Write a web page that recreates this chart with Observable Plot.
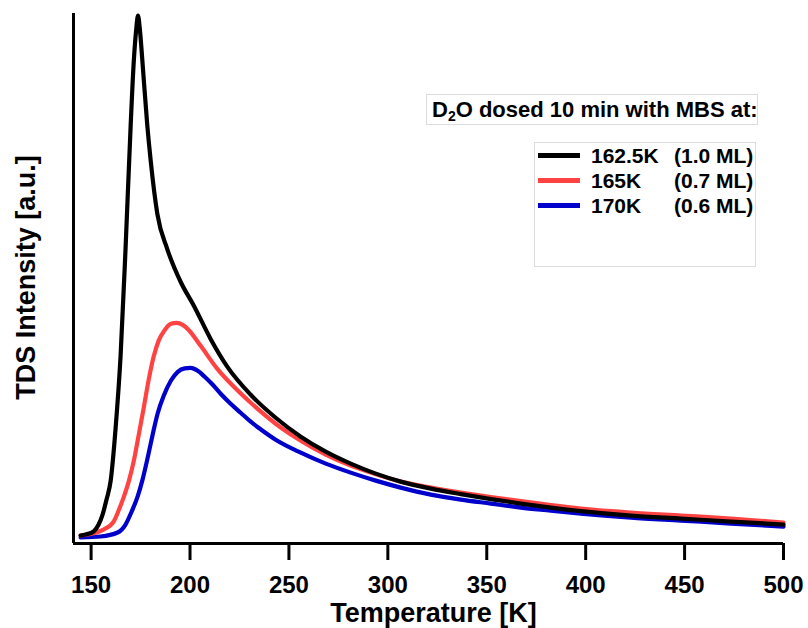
<!DOCTYPE html>
<html>
<head>
<meta charset="utf-8">
<script src="https://cdn.jsdelivr.net/npm/d3@7"></script>
<script src="https://cdn.jsdelivr.net/npm/@observablehq/plot@0.6"></script>
<style>
  html, body { margin: 0; padding: 0; background: #fff; }
  #wrap { position: relative; width: 808px; height: 628px; font-family: "Liberation Sans", Arial, sans-serif; font-weight: bold; }
  #wrap svg { position: absolute; left: 0; top: 0; }
  .box { position: absolute; border: 1px solid #dcdcdc; background: #fff; box-sizing: border-box; }
  .ltitle { left: 426px; top: 94px; width: 332px; height: 31px; font-size: 22px; line-height: 29px; padding-left: 5px; color: #000; white-space: nowrap; }
  .ltitle sub { font-size: 14px; vertical-align: -4px; line-height: 0; }
  .lbox { left: 534px; top: 142px; width: 222px; height: 125px; }
  .entry { position: absolute; left: 0; height: 25px; width: 220px; font-size: 21px; line-height: 25px; white-space: nowrap; }
  .sw { position: absolute; left: 3px; top: 10px; width: 42px; height: 5px; }
  .t1 { position: absolute; left: 56px; }
  .t2 { position: absolute; left: 139px; }
</style>
</head>
<body>
<div id="wrap"></div>
<script>
// ---- data ----
const seriesNames = ["162.5K", "165K", "170K"];
const seriesCoverage = ["(1.0 ML)", "(0.7 ML)", "(0.6 ML)"];
const seriesColors = ["#000000", "#ff4343", "#0000cc"];

const blackT = [144.7, 147.2, 151.3, 153.8, 155.8, 157.8, 159.9, 162.4, 164.9, 167.4, 170.0, 171.6, 172.8, 173.7, 174.7, 175.9, 178.4, 180.1, 183.5, 188.5, 195.3, 202.0, 210.4, 218.9, 230.7, 243.3, 256.0, 268.6, 281.2, 293.9, 306.5, 321.7, 336.9, 352.1, 367.2, 382.4, 397.6, 422.9, 448.2, 473.4, 500];
const blackI = [8, 9, 12, 19, 29, 44, 63, 116, 188, 295, 419, 484, 515, 529, 514, 484, 419, 384, 330, 295, 262, 238, 205, 177, 149, 126, 107, 92, 80, 70, 62, 55, 49.5, 44.5, 40, 36, 32.5, 28, 25, 22, 19];

const redT = [144.7, 156.3, 161.4, 163.9, 166.4, 169.0, 171.5, 174.0, 176.6, 179.1, 181.6, 184.1, 187.3, 190.1, 193.2, 196.3, 199.3, 205.4, 213.8, 222.2, 230.7, 243.3, 256.0, 268.6, 281.2, 293.9, 306.5, 321.7, 336.9, 352.1, 367.2, 382.4, 397.6, 422.9, 448.2, 473.4, 500];
const redI = [8, 14, 22, 33, 46, 62, 82, 108, 136, 164, 187, 203, 214, 220, 221, 219, 214, 198, 175, 157, 141, 120, 103, 89, 78, 69.5, 62, 56, 51, 46.5, 42.5, 38.5, 35, 31, 28, 25, 21];

const blueT = [144.7, 154.8, 163.4, 167.4, 170.5, 173.5, 176.0, 178.6, 181.1, 183.6, 186.7, 190.3, 193.8, 197.3, 200.3, 203.9, 207.4, 211.5, 215.5, 220.0, 225.6, 230.7, 236.0, 243.3, 256.0, 268.6, 281.2, 293.9, 306.5, 321.7, 336.9, 352.1, 367.2, 382.4, 397.6, 422.9, 448.2, 473.4, 500];
const blueI = [6, 7, 11, 19, 32, 47, 64, 86, 109, 130, 148, 163, 172, 175.5, 176, 173, 167, 159, 150, 141, 131, 122, 114, 104, 91, 80, 71, 63, 56, 49, 44, 40, 36, 33, 30, 26, 23, 20, 17];

const xTicks = [150, 200, 250, 300, 350, 400, 450, 500];
const xLabel = "Temperature [K]";
const yLabel = "TDS Intensity [a.u.]";
const legendTitle = "D<sub>2</sub>O dosed 10 min with MBS at:";

// ---- build table ----
const rows = [];
[[blueT, blueI, 2], [redT, redI, 1], [blackT, blackI, 0]].forEach(([T, I, k]) => {
  T.forEach((t, i) => rows.push({T: t, I: I[i], s: seriesNames[k]}));
});

const xMin = 141.1, xMax = 500;
const font = "'Liberation Sans', Arial, sans-serif";

const chart = Plot.plot({
  width: 808,
  height: 628,
  marginLeft: 73,
  marginRight: 25,
  marginTop: 13,
  marginBottom: 85,
  style: {fontFamily: font, fontWeight: "bold", background: "transparent", color: "#000"},
  x: {domain: [xMin, xMax]},
  y: {domain: [0, 531], axis: null},
  color: {domain: seriesNames, range: seriesColors},
  marks: [
    Plot.line(rows, {x: "T", y: "I", z: "s", stroke: "s", strokeWidth: 4.2, curve: "monotone-x", strokeLinejoin: "round"}),
    Plot.ruleY([0], {strokeWidth: 3, stroke: "#000"}),
    Plot.ruleX([xMin], {strokeWidth: 3, stroke: "#000"}),
    Plot.axisX({ticks: xTicks, tickSize: 17, tickPadding: 15, strokeWidth: 3, fontSize: 24, fontWeight: "bold", label: null, tickFormat: d => String(d)}),
    Plot.text([xLabel], {frameAnchor: "bottom", dx: 5, dy: 78, lineAnchor: "bottom", fontSize: 27, fontWeight: "bold"}),
    Plot.text([yLabel], {frameAnchor: "left", dx: -47, dy: -1, rotate: -90, lineAnchor: "middle", textAnchor: "middle", fontSize: 27, fontWeight: "bold"})
  ]
});

const wrap = document.getElementById("wrap");
wrap.appendChild(chart);

// ---- legend ----
const t = document.createElement("div");
t.className = "box ltitle";
t.innerHTML = legendTitle;
wrap.appendChild(t);

const lb = document.createElement("div");
lb.className = "box lbox";
seriesNames.forEach((n, i) => {
  const e = document.createElement("div");
  e.className = "entry";
  e.style.top = (i * 25) + "px";
  e.innerHTML = `<span class="sw" style="background:${seriesColors[i]}"></span><span class="t1">${n}</span><span class="t2">${seriesCoverage[i]}</span>`;
  lb.appendChild(e);
});
wrap.appendChild(lb);
</script>
</body>
</html>
